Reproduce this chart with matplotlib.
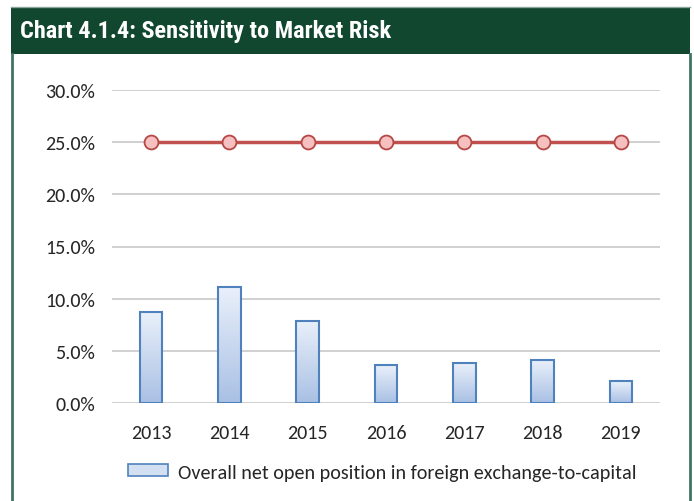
import matplotlib
matplotlib.use("Agg")
from matplotlib import pyplot as plt
from matplotlib import font_manager
from matplotlib.patches import Rectangle, Patch
from matplotlib.lines import Line2D
import numpy as np

years = ['2013', '2014', '2015', '2016', '2017', '2018', '2019']
net_open_position = [8.7, 11.1, 7.9, 3.6, 3.8, 4.1, 2.1]
threshold = [25.0, 25.0, 25.0, 25.0, 25.0, 25.0, 25.0]
title = 'Chart 4.1.4: Sensitivity to Market Risk'
legend_label = 'Overall net open position in foreign exchange-to-capital'


def pick(cands):
    for c in cands:
        try:
            font_manager.findfont(c, fallback_to_default=False)
            return c
        except ValueError:
            pass
    return 'DejaVu Sans'


title_font = pick(['Roboto Condensed', 'Archivo Narrow', 'PT Sans Narrow', 'Liberation Sans Narrow', 'Barlow Condensed'])
body_font = pick(['Carlito', 'Open Sans'])
body_size = 14.5 if body_font == 'Carlito' else 13

W, H = 694, 502
fig = plt.figure(figsize=(W / 100, H / 100), dpi=100)
green = '#12472f'

# title band and frame
fig.patches.append(Rectangle((11 / W, 1 - 55 / H), 679 / W, 47 / H, transform=fig.transFigure,
                             facecolor=green, edgecolor='none', zorder=0))
fig.lines.append(Line2D([11 / W, 690 / W], [1 - 8 / H, 1 - 8 / H], transform=fig.transFigure,
                        color='#8aa59a', lw=1))
for xp in (11.5, 689.5):
    fig.lines.append(Line2D([xp / W, xp / W], [0, 1 - 55 / H], transform=fig.transFigure,
                            color='#3f7463', lw=2))
fig.text(20 / W, 1 - 32 / H, title, color='white', fontsize=17.5, fontweight='bold',
         family=title_font, va='center', ha='left')

ax = fig.add_axes([112 / W, 1 - 404 / H, 548 / W, 313 / H])
x = np.arange(len(years))

# bars with vertical gradient
bw = 0.29
bars = ax.bar(x, net_open_position, width=bw, facecolor='none', edgecolor='#4f81bd', lw=1.5, zorder=3)
grad = np.linspace(0, 1, 256).reshape(-1, 1)
cmap = matplotlib.colors.LinearSegmentedColormap.from_list('g', ['#a9c0e4', '#e9f0fa'])
for b in bars:
    im = ax.imshow(grad, extent=(b.get_x(), b.get_x() + bw, 0, b.get_height()), origin='lower',
                   cmap=cmap, aspect='auto', zorder=2)
    im.set_clip_path(b)

ax.plot(x, threshold, color='#c0504d', lw=2.5, marker='o', markersize=10,
        markerfacecolor='#f6c0c0', markeredgecolor='#b54845', markeredgewidth=1.3, zorder=4)

ax.set_xlim(-0.5, 6.5)
ax.set_ylim(0, 30)
ax.set_yticks(np.arange(0, 31, 5))
ax.set_yticklabels([f'{v:.1f}%' for v in np.arange(0, 31, 5)])
ax.set_xticks(x)
ax.set_xticklabels(years)
ax.grid(axis='y', color='#c8c8c8', lw=1.2, zorder=0)
ax.set_axisbelow(True)
for s in ax.spines.values():
    s.set_visible(False)
ax.tick_params(length=0, labelsize=body_size, labelcolor='#262626')
ax.tick_params(axis='y', pad=12)
ax.tick_params(axis='x', pad=15)
for lab in ax.get_xticklabels() + ax.get_yticklabels():
    lab.set_family(body_font)
ax.set_facecolor('none')

fig.legend(handles=[Patch(facecolor='#d3e0f2', edgecolor='#4f81bd', lw=1.2)], labels=[legend_label],
           loc='center left', bbox_to_anchor=(110 / W, 1 - 473 / H), frameon=False,
           prop={'family': body_font, 'size': body_size}, handlelength=2.0, handleheight=0.55,
           handletextpad=0.5, labelcolor='#262626')

fig.savefig('out.png', dpi=100)
